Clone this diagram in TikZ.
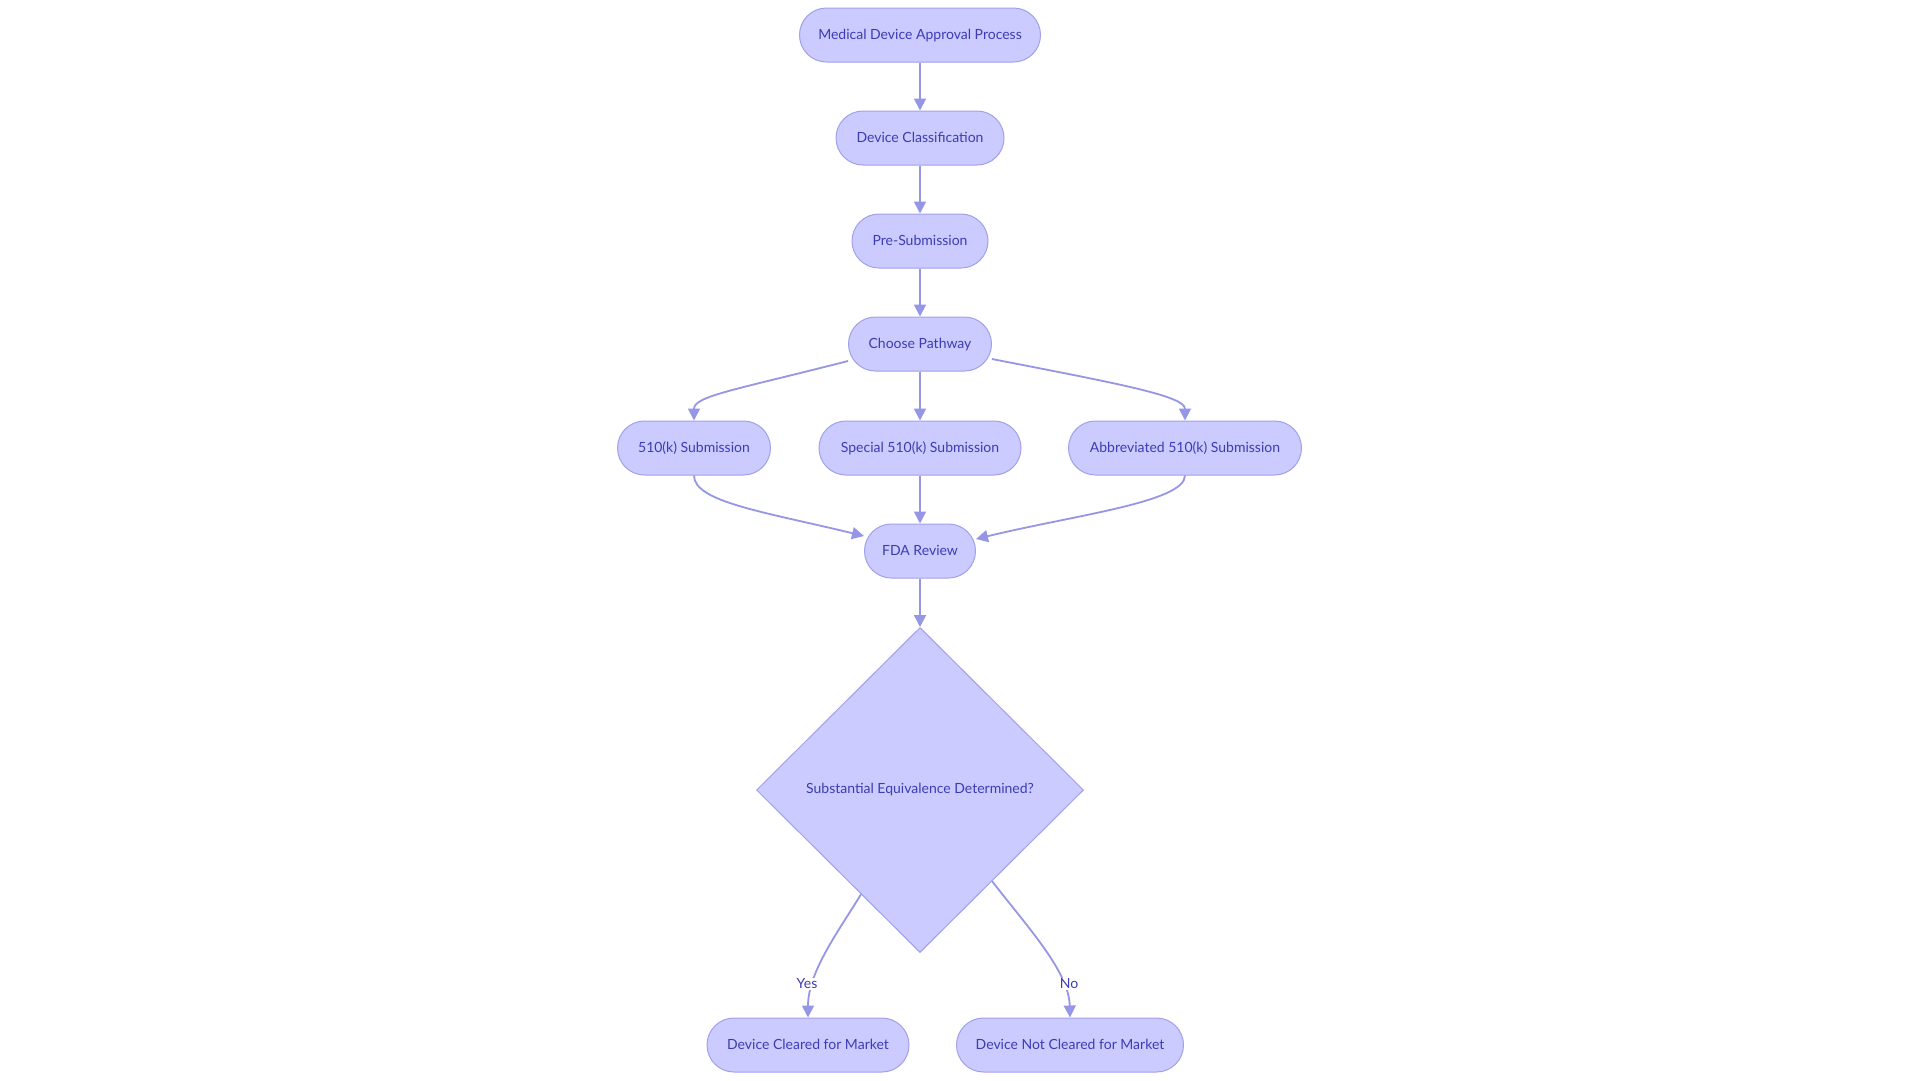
\documentclass[tikz,border=0pt]{standalone}
\usepackage{fontspec}
\setmainfont{Lato}
\usetikzlibrary{arrows.meta,shapes.geometric,calc}
\definecolor{nodefill}{RGB}{203,203,255}
\definecolor{nodeline}{RGB}{160,160,235}
\definecolor{edgecol}{RGB}{150,150,230}
\definecolor{txtcol}{RGB}{60,60,180}
\tikzset{
  pill/.style={draw=nodeline, fill=nodefill, line width=1pt, rounded corners=27pt,
    minimum height=54pt, inner sep=0pt, text height=11.5pt, text depth=2pt,
    text=txtcol, font=\fontsize{14}{16}\selectfont},
  decision/.style={diamond, draw=nodeline, fill=nodefill, line width=1pt, inner sep=0pt,
    minimum width=327pt, minimum height=325pt, text=txtcol, font=\fontsize{14}{16}\selectfont},
  conn/.style={draw=edgecol, line width=1.8pt, -{Triangle[length=12pt,width=12pt]}},
  elabel/.style={fill=white, inner sep=1pt, text=txtcol, font=\fontsize{14}{16}\selectfont}
}
\begin{document}
\begin{tikzpicture}[x=1pt,y=-1pt]
\useasboundingbox[fill=white] (0,0) rectangle (1920,1080);
\node[pill, minimum width=241pt] (mdap) at (920,35) {Medical Device Approval Process};
\node[pill, minimum width=168pt] (dc) at (920,138) {Device Classification};
\node[pill, minimum width=136pt] (ps) at (920,241) {Pre-Submission};
\node[pill, minimum width=143pt] (cp) at (920,344) {Choose Pathway};
\node[pill, minimum width=153pt] (s510) at (694,448) {510(k) Submission};
\node[pill, minimum width=202pt] (sp510) at (920,448) {Special 510(k) Submission};
\node[pill, minimum width=233pt] (ab510) at (1185,448) {Abbreviated 510(k) Submission};
\node[pill, minimum width=111pt] (fda) at (920,551) {FDA Review};
\node[decision] (dia) at (920,790) {Substantial Equivalence Determined?};
\node[pill, minimum width=202pt] (yes) at (808,1045) {Device Cleared for Market};
\node[pill, minimum width=227pt] (no) at (1070,1045) {Device Not Cleared for Market};

\coordinate (cpL) at ($(cp.west)+(0,17)$);
\coordinate (cpR) at ($(cp.east)+(0,15)$);
\coordinate (fdaL) at ($(fda.west)+(0,-15)$);
\coordinate (fdaR) at ($(fda.east)+(0,-12)$);
\coordinate (diaY) at ($(dia.south)!0.36!(dia.west)$);
\coordinate (diaN) at ($(dia.south)!0.44!(dia.east)$);

\draw[conn] (mdap) -- (dc);
\draw[conn] (dc) -- (ps);
\draw[conn] (ps) -- (cp);
\draw[conn] (cp) -- (sp510);
\draw[conn] (cpL) .. controls (735,390) and (694,396) .. (s510.north);
\draw[conn] (cpR) .. controls (1120,384) and (1185,396) .. (ab510.north);
\draw[conn] (s510.south) .. controls (694,502) and (765,512) .. (fdaL);
\draw[conn] (sp510) -- (fda);
\draw[conn] (ab510.south) .. controls (1185,502) and (1075,515) .. (fdaR);
\draw[conn] (fda) -- (dia.north);
\draw[conn] (diaY) .. controls (838,932) and (808,972) .. (yes.north);
\draw[conn] (diaN) .. controls (1030,930) and (1069,972) .. (no.north);
\node[elabel] (ly) at (807,984) {Yes};
\node[elabel] (ln) at (1069,984) {No};
\end{tikzpicture}
\end{document}
